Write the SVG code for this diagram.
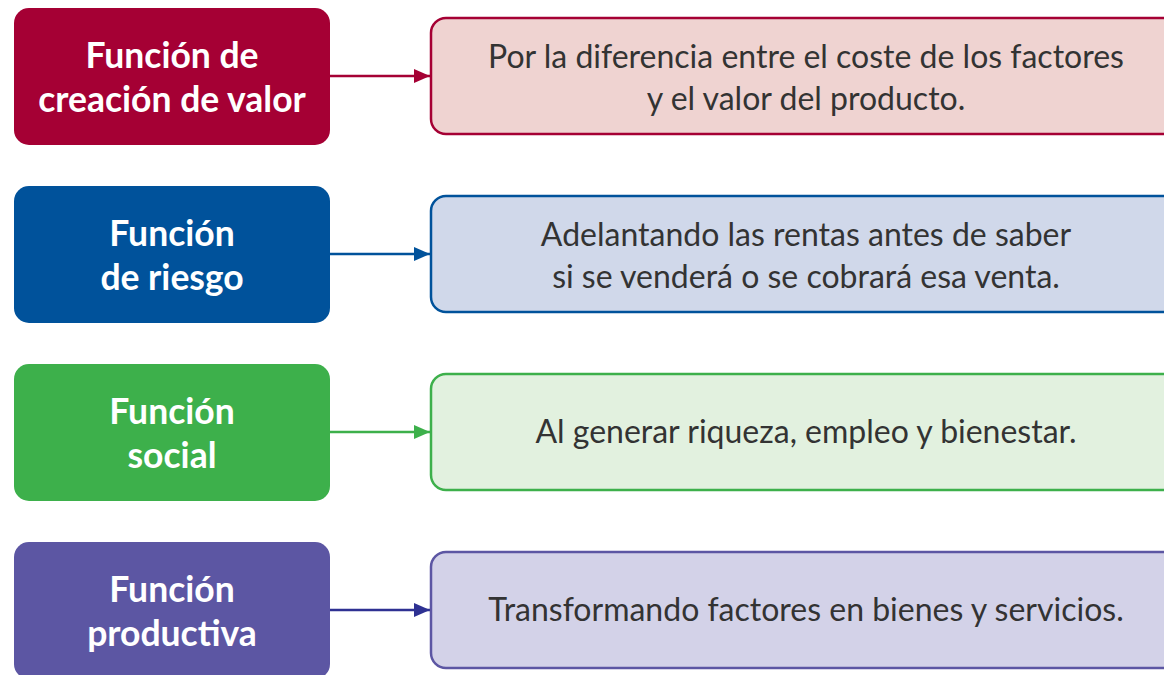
<svg xmlns="http://www.w3.org/2000/svg" width="1164" height="675" viewBox="0 0 1164 675">
<style>
.lt{font-family:Lato,"Noto Sans",sans-serif;font-weight:bold;font-size:35.5px;fill:#fff;text-anchor:middle}
.rt{font-family:Lato,"Noto Sans",sans-serif;font-size:32px;fill:#333;text-anchor:middle}
.rb{stroke-width:2.5}
.cn{stroke-width:2.5;fill:none}
</style>
<defs>
<marker id="a1" viewBox="0 0 16 14" refX="16" refY="7" markerWidth="16" markerHeight="14" markerUnits="userSpaceOnUse" orient="auto"><path d="M0,0 L16,7 L0,14 Z" fill="#A50034"/></marker>
<marker id="a2" viewBox="0 0 16 14" refX="16" refY="7" markerWidth="16" markerHeight="14" markerUnits="userSpaceOnUse" orient="auto"><path d="M0,0 L16,7 L0,14 Z" fill="#00529B"/></marker>
<marker id="a3" viewBox="0 0 16 14" refX="16" refY="7" markerWidth="16" markerHeight="14" markerUnits="userSpaceOnUse" orient="auto"><path d="M0,0 L16,7 L0,14 Z" fill="#3DB04B"/></marker>
<marker id="a4" viewBox="0 0 16 14" refX="16" refY="7" markerWidth="16" markerHeight="14" markerUnits="userSpaceOnUse" orient="auto"><path d="M0,0 L16,7 L0,14 Z" fill="#2E3192"/></marker>
</defs>
<rect width="1164" height="675" fill="#fff"/>
<g id="connectors">
<line class="cn" x1="330" y1="76" x2="430" y2="76" stroke="#A50034" marker-end="url(#a1)"/>
<line class="cn" x1="330" y1="254" x2="430" y2="254" stroke="#00529B" marker-end="url(#a2)"/>
<line class="cn" x1="330" y1="432" x2="430" y2="432" stroke="#3DB04B" marker-end="url(#a3)"/>
<line class="cn" x1="330" y1="610" x2="430" y2="610" stroke="#2E3192" marker-end="url(#a4)"/>
</g>
<g id="n1">
<rect x="14" y="8" width="316" height="137" rx="15" fill="#A50034"/>
<text class="lt" x="172" y="68">Función de</text>
<text class="lt" x="172" y="112">creación de valor</text>
</g>
<g id="d1">
<rect class="rb" x="431" y="18" width="760" height="116" rx="15" fill="#EFD3D1" stroke="#A50034"/>
<text class="rt" x="806" y="68">Por la diferencia entre el coste de los factores</text>
<text class="rt" x="806" y="110">y el valor del producto.</text>
</g>
<g id="n2">
<rect x="14" y="186" width="316" height="137" rx="15" fill="#00529B"/>
<text class="lt" x="172" y="246">Función</text>
<text class="lt" x="172" y="290">de riesgo</text>
</g>
<g id="d2">
<rect class="rb" x="431" y="196" width="760" height="116" rx="15" fill="#D0D8EA" stroke="#00529B"/>
<text class="rt" x="806" y="246">Adelantando las rentas antes de saber</text>
<text class="rt" x="806" y="288">si se venderá o se cobrará esa venta.</text>
</g>
<g id="n3">
<rect x="14" y="364" width="316" height="137" rx="15" fill="#3DB04B"/>
<text class="lt" x="172" y="424">Función</text>
<text class="lt" x="172" y="468">social</text>
</g>
<g id="d3">
<rect class="rb" x="431" y="374" width="760" height="116" rx="15" fill="#E2F1DF" stroke="#3DB04B"/>
<text class="rt" x="806" y="443">Al generar riqueza, empleo y bienestar.</text>
</g>
<g id="n4">
<rect x="14" y="542" width="316" height="137" rx="15" fill="#5C56A3"/>
<text class="lt" x="172" y="602">Función</text>
<text class="lt" x="172" y="646">productiva</text>
</g>
<g id="d4">
<rect class="rb" x="431" y="552" width="760" height="116" rx="15" fill="#D3D2E8" stroke="#5C56A3"/>
<text class="rt" x="806" y="621">Transformando factores en bienes y servicios.</text>
</g>
</svg>
